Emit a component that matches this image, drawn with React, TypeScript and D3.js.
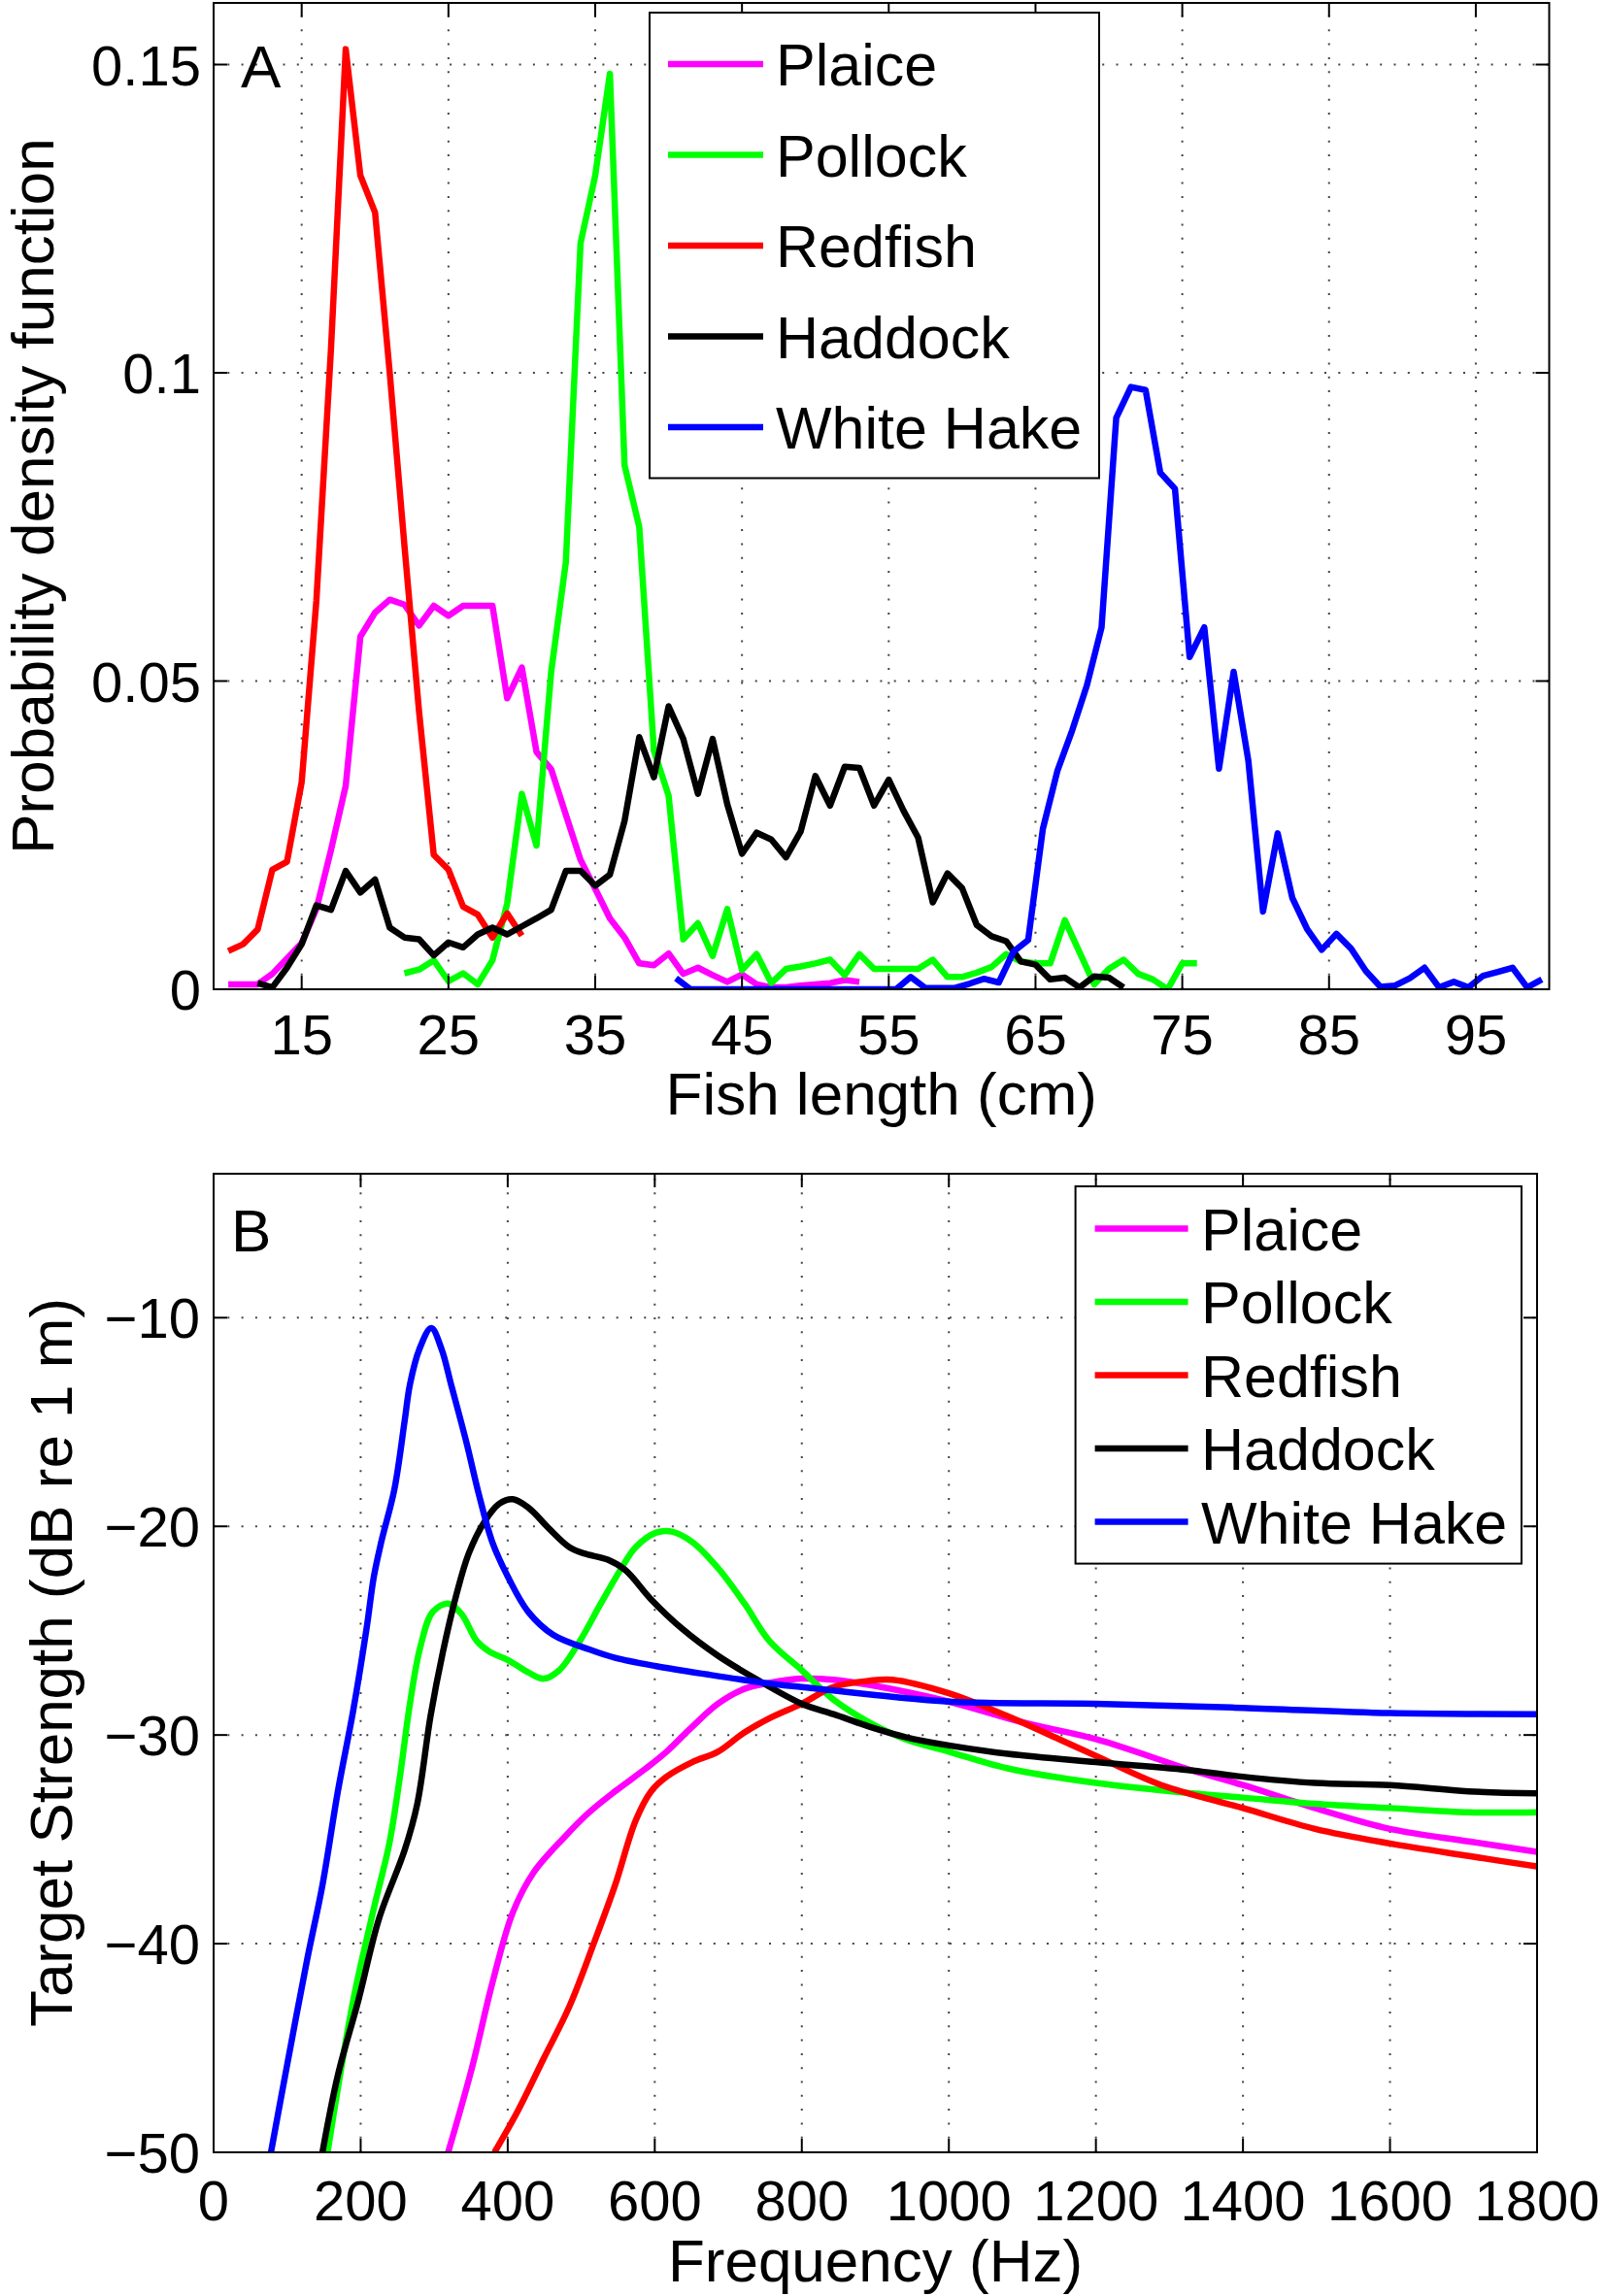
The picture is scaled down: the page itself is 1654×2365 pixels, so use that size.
import React from 'react';
import * as d3 from 'd3';

const FONT = '"Liberation Sans", Arial, Helvetica, sans-serif';

const species = ['Plaice', 'Pollock', 'Redfish', 'Haddock', 'White Hake'];
const speciesColors = ['#ff00ff', '#00ff00', '#ff0000', '#000000', '#0000ff'];

// ---- panel A: length distributions, one value per cm from the first length
const plaiceStart = 10;
const plaicePdf = [0.0008, 0.0008, 0.0008, 0.0025, 0.005, 0.0075, 0.013, 0.0226, 0.033, 0.0572,
    0.0611, 0.0632, 0.0624, 0.059, 0.0622, 0.0606, 0.0622, 0.0622, 0.0622, 0.0472,
    0.0522, 0.0385, 0.0357, 0.0283, 0.021, 0.0163, 0.0115, 0.0084, 0.0042, 0.0039,
    0.0058, 0.0025, 0.0035, 0.0023, 0.0012, 0.0024, 0.0008, 0.0003, 0.0003, 0.0006,
    0.0008, 0.001, 0.0015, 0.0012];

const pollockStart = 22;
const pollockPdf = [0.0026, 0.0032, 0.0047, 0.0013, 0.0026, 0.0008, 0.0047, 0.0139, 0.0317, 0.0233,
    0.0515, 0.0693, 0.121, 0.132, 0.1485, 0.085, 0.075, 0.0387, 0.0314, 0.0081,
    0.0107, 0.0054, 0.013, 0.0031, 0.0057, 0.001, 0.0033, 0.0037, 0.0042, 0.0048,
    0.0023, 0.0057, 0.0033, 0.0033, 0.0033, 0.0033, 0.0048, 0.002, 0.002, 0.0027,
    0.0036, 0.0057, 0.0045, 0.0042, 0.0042, 0.0112, 0.006, 0.0008, 0.0033, 0.0048,
    0.0025, 0.0016, 0, 0.0042, 0.0042];

const redfishStart = 10;
const redfishPdf = [0.0062, 0.0073, 0.0097, 0.0194, 0.0207, 0.0336, 0.063, 0.104, 0.1525, 0.132,
    0.126, 0.1, 0.072, 0.045, 0.0218, 0.0194, 0.0134, 0.0121, 0.0084, 0.0123, 0.0087];

const haddockStart = 12;
const haddockPdf = [0.001, 0.0003, 0.0035, 0.0073, 0.0136, 0.0129, 0.0192, 0.0157, 0.0178, 0.01,
    0.0084, 0.0081, 0.0055, 0.0076, 0.0068, 0.0089, 0.01, 0.0089, 0.0102, 0.0115,
    0.0129, 0.0192, 0.0192, 0.0168, 0.0186, 0.0273, 0.0409, 0.0344, 0.0459, 0.0406,
    0.0317, 0.0406, 0.03, 0.022, 0.0254, 0.0243, 0.0214, 0.0256, 0.0346, 0.0298,
    0.0361, 0.0359, 0.0298, 0.034, 0.029, 0.0246, 0.0141, 0.0188, 0.0164, 0.0104,
    0.0086, 0.0078, 0.0045, 0.004, 0.0016, 0.0019, 0.0003, 0.0021, 0.0019, 0.0003];

const hakeStart = 40.5;
const hakePdf = [0.0018, 0, 0, 0, 0, 0, 0, 0, 0, 0,
    0, 0, 0, 0, 0, 0, 0.002, 0.0002, 0.0002, 0.0002,
    0.0009, 0.0017, 0.0011, 0.0061, 0.008, 0.026, 0.0355, 0.042, 0.0493, 0.0587,
    0.0927, 0.0977, 0.0972, 0.0838, 0.0812, 0.0539, 0.0587, 0.0358, 0.0515, 0.0371,
    0.0126, 0.0253, 0.0148, 0.0098, 0.0064, 0.009, 0.0066, 0.003, 0.0004, 0.0006,
    0.0018, 0.0035, 0.0003, 0.0012, 0.0003, 0.0022, 0.0028, 0.0035, 0.0003, 0.0016];

const lengthTicks = [15, 25, 35, 45, 55, 65, 75, 85, 95];
const pdfTicks = [0, 0.05, 0.1, 0.15];
const pdfTickLabels = ['0', '0.05', '0.1', '0.15'];

// ---- panel B: target strength vs frequency
const plaiceFreq = [319, 351, 379, 407, 435, 477, 511, 546, 588, 616, 651, 686, 721, 756, 800, 843, 892, 1000, 1101, 1200, 1331, 1400, 1498, 1600, 1707, 1800];
const plaiceTs = [-50, -46.0, -41.9, -38.5, -36.6, -34.9, -33.7, -32.7, -31.6, -30.8, -29.6, -28.5, -27.8, -27.5, -27.3, -27.35, -27.6, -28.4, -29.4, -30.2, -31.7, -32.4, -33.5, -34.5, -35.1, -35.6];

const pollockFreq = [155, 190, 218, 239, 253, 267, 281, 298, 319, 337, 358, 375, 400, 428, 449, 470, 498, 525, 553, 574, 602, 623, 651, 686, 722, 756, 800, 843, 892, 941, 1000, 1080, 1200, 1331, 1400, 1498, 1600, 1707, 1800];
const pollockTs = [-50, -42.7, -38.3, -35.2, -32.1, -28.5, -25.8, -24.1, -23.7, -24.2, -25.5, -26.0, -26.4, -27.0, -27.3, -26.9, -25.5, -23.8, -22.1, -21.0, -20.3, -20.25, -20.75, -22.0, -23.7, -25.5, -26.9, -28.3, -29.4, -30.2, -30.8, -31.6, -32.3, -32.8, -33.0, -33.3, -33.5, -33.7, -33.7];

const redfishFreq = [382, 414, 449, 484, 518, 546, 574, 595, 616, 651, 686, 721, 756, 800, 843, 892, 923, 1000, 1080, 1150, 1200, 1289, 1400, 1498, 1600, 1707, 1800];
const redfishTs = [-50, -48.0, -45.5, -43.0, -39.9, -37.2, -34.1, -32.7, -32.0, -31.3, -30.8, -29.9, -29.2, -28.5, -27.7, -27.4, -27.35, -28.0, -29.1, -30.2, -31.0, -32.4, -33.5, -34.5, -35.2, -35.8, -36.3];

const haddockFreq = [148, 169, 197, 225, 260, 277, 295, 312, 330, 347, 368, 389, 407, 428, 456, 484, 504, 536, 560, 595, 637, 686, 742, 800, 843, 892, 941, 1000, 1080, 1200, 1331, 1400, 1498, 1600, 1707, 1800];
const haddockTs = [-50, -46.3, -42.7, -38.8, -35.5, -33.3, -29.1, -26.0, -23.3, -21.3, -19.8, -18.9, -18.7, -19.1, -20.1, -21.0, -21.3, -21.6, -22.1, -23.5, -24.9, -26.2, -27.4, -28.5, -29.0, -29.6, -30.1, -30.5, -30.9, -31.3, -31.7, -32.0, -32.3, -32.4, -32.7, -32.8];

const hakeFreq = [78, 99, 127, 148, 169, 190, 208, 218, 228, 246, 260, 267, 280, 296, 310, 323, 344, 361, 379, 400, 428, 462, 511, 546, 602, 672, 749, 800, 1000, 1200, 1400, 1600, 1800];
const hakeTs = [-50, -46.0, -40.8, -37.2, -32.7, -28.8, -24.9, -22.4, -20.75, -18.2, -14.9, -13.2, -11.5, -10.5, -11.5, -13.2, -16.0, -18.5, -20.75, -22.4, -24.1, -25.2, -25.9, -26.3, -26.7, -27.1, -27.5, -27.7, -28.4, -28.5, -28.7, -28.95, -29.0];

const freqTicks = [0, 200, 400, 600, 800, 1000, 1200, 1400, 1600, 1800];
const tsTicks = [-50, -40, -30, -20, -10];

type Pt = [number, number];

const byCm = (start: number, vals: number[]): Pt[] => vals.map((v, i) => [start + i, v]);
const zip = (xs: number[], ys: number[]): Pt[] => xs.map((x, i) => [x, ys[i]]);

const seriesA: Pt[][] = [
    byCm(plaiceStart, plaicePdf),
    byCm(pollockStart, pollockPdf),
    byCm(redfishStart, redfishPdf),
    byCm(haddockStart, haddockPdf),
    byCm(hakeStart, hakePdf),
];

const seriesB: Pt[][] = [
    zip(plaiceFreq, plaiceTs),
    zip(pollockFreq, pollockTs),
    zip(redfishFreq, redfishTs),
    zip(haddockFreq, haddockTs),
    zip(hakeFreq, hakeTs),
];

interface PanelProps {
    x: d3.ScaleLinear<number, number>;
    y: d3.ScaleLinear<number, number>;
    xTicks: number[];
    yTicks: number[];
    xTickText: (d: number, i: number) => string;
    yTickText: (d: number, i: number) => string;
    xTickBase: number;
    yTickEnd: number;
    series: Pt[][];
    curve: d3.CurveFactory;
    clipId: string;
}

const TICK = 14;
const LINE_W = 6.5;

const Panel: React.FC<PanelProps> = ({ x, y, xTicks, yTicks, xTickText, yTickText, xTickBase, yTickEnd, series, curve, clipId }) => {
    const [x0, x1] = x.range();
    const [y0, y1] = y.range(); // y0 bottom, y1 top
    const line = d3.line<Pt>().x(d => x(d[0])).y(d => y(d[1])).curve(curve);
    const gridX = xTicks.filter(t => Math.abs(x(t) - x0) > 2 && Math.abs(x(t) - x1) > 2);
    const gridY = yTicks.filter(t => Math.abs(y(t) - y0) > 2 && Math.abs(y(t) - y1) > 2);
    return (
        <g>
            <defs>
                <clipPath id={clipId}>
                    <rect x={x0} y={y1} width={x1 - x0} height={y0 - y1} />
                </clipPath>
            </defs>
            <rect x={x0} y={y1} width={x1 - x0} height={y0 - y1} fill="white" />
            <g stroke="#444" strokeWidth={2} strokeDasharray="2,12.3">
                {gridX.map(t => <line key={'gx' + t} x1={x(t)} x2={x(t)} y1={y0} y2={y1} />)}
                {gridY.map(t => <line key={'gy' + t} x1={x0} x2={x1} y1={y(t)} y2={y(t)} />)}
            </g>
            <g clipPath={`url(#${clipId})`} fill="none" strokeWidth={LINE_W} strokeLinejoin="round">
                {series.map((s, i) => <path key={i} d={line(s) ?? ''} stroke={speciesColors[i]} />)}
            </g>
            <g stroke="black" strokeWidth={2}>
                {xTicks.map(t => (
                    <g key={'tx' + t}>
                        <line x1={x(t)} x2={x(t)} y1={y0} y2={y0 - TICK} />
                        <line x1={x(t)} x2={x(t)} y1={y1} y2={y1 + TICK} />
                    </g>
                ))}
                {yTicks.map(t => (
                    <g key={'ty' + t}>
                        <line x1={x0} x2={x0 + TICK} y1={y(t)} y2={y(t)} />
                        <line x1={x1} x2={x1 - TICK} y1={y(t)} y2={y(t)} />
                    </g>
                ))}
                <rect x={x0} y={y1} width={x1 - x0} height={y0 - y1} fill="none" />
            </g>
            <g fontFamily={FONT} fontSize={58} fill="black">
                {xTicks.map((t, i) => (
                    <text key={'lx' + t} x={x(t)} y={xTickBase} textAnchor="middle">{xTickText(t, i)}</text>
                ))}
                {yTicks.map((t, i) => (
                    <text key={'ly' + t} x={yTickEnd} y={y(t) + 21} textAnchor="end">{yTickText(t, i)}</text>
                ))}
            </g>
        </g>
    );
};

interface LegendProps {
    left: number;
    top: number;
    width: number;
    height: number;
    firstRow: number;
    rowStep: number;
    lineX0: number;
    lineX1: number;
    textX: number;
}

const Legend: React.FC<LegendProps> = ({ left, top, width, height, firstRow, rowStep, lineX0, lineX1, textX }) => (
    <g>
        <rect x={left} y={top} width={width} height={height} fill="white" stroke="black" strokeWidth={2} />
        {species.map((name, i) => {
            const ry = firstRow + i * rowStep;
            return (
                <g key={name}>
                    <line x1={lineX0} x2={lineX1} y1={ry} y2={ry} stroke={speciesColors[i]} strokeWidth={LINE_W} />
                    <text x={textX} y={ry + 22} fontFamily={FONT} fontSize={61}>{name}</text>
                </g>
            );
        })}
    </g>
);

const App: React.FC = () => {
    const xA = d3.scaleLinear().domain([9, 100]).range([220, 1595.5]);
    const yA = d3.scaleLinear().domain([0, 0.16]).range([1019, 3]);
    const xB = d3.scaleLinear().domain([0, 1800]).range([220, 1583]);
    const yB = d3.scaleLinear().domain([-50, -3.1]).range([2217, 1209]);

    return (
        <svg width={1654} height={2365} style={{ position: 'absolute', left: 0, top: 0, background: 'white' }}>
            <rect width={1654} height={2365} fill="white" />
            <Panel x={xA} y={yA} xTicks={lengthTicks} yTicks={pdfTicks}
                xTickText={d => String(d)} yTickText={(d, i) => pdfTickLabels[i]}
                xTickBase={1086} yTickEnd={207} series={seriesA} curve={d3.curveLinear} clipId="clipA" />
            <Legend left={669} top={13} width={463} height={479.5} firstRow={66} rowStep={93.5}
                lineX0={688} lineX1={786} textX={799} />
            <text x={248} y={90} fontFamily={FONT} fontSize={62}>A</text>
            <text x={907.75} y={1148} textAnchor="middle" fontFamily={FONT} fontSize={62}>Fish length (cm)</text>
            <text transform="translate(55,511) rotate(-90)" textAnchor="middle" fontFamily={FONT} fontSize={62}>Probability density function</text>

            <Panel x={xB} y={yB} xTicks={freqTicks} yTicks={tsTicks}
                xTickText={d => String(d)} yTickText={d => String(d).replace('-', '\u2212')}
                xTickBase={2287} yTickEnd={206} series={seriesB} curve={d3.curveCatmullRom.alpha(0.5)} clipId="clipB" />
            <Legend left={1107.6} top={1222} width={459.4} height={388.6} firstRow={1265.6} rowStep={75.5}
                lineX0={1127.6} lineX1={1223.6} textX={1237} />
            <text x={238} y={1289} fontFamily={FONT} fontSize={62}>B</text>
            <text x={901.5} y={2350} textAnchor="middle" fontFamily={FONT} fontSize={62}>Frequency (Hz)</text>
            <text transform="translate(74,1712.5) rotate(-90)" textAnchor="middle" fontFamily={FONT} fontSize={62}>Target Strength (dB re 1 m)</text>
        </svg>
    );
};

export default App;
